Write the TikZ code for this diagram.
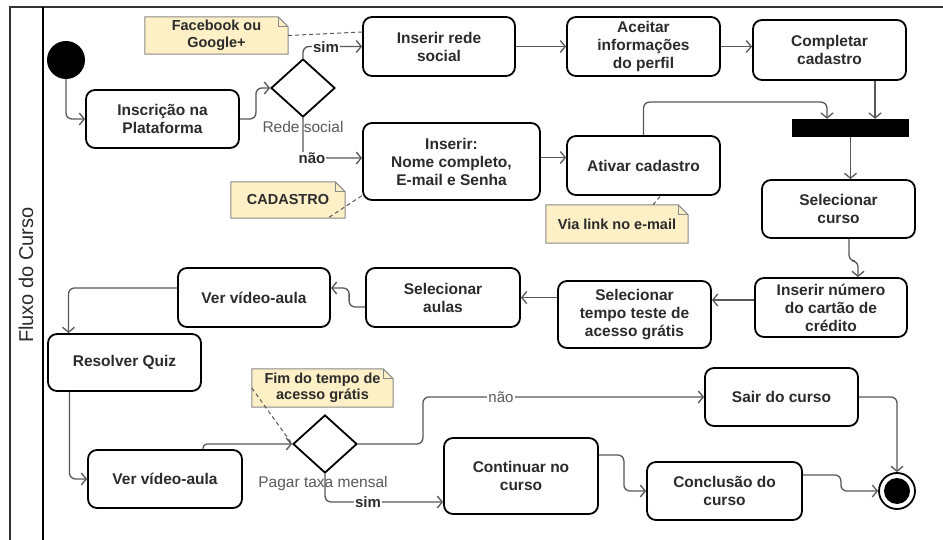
\documentclass[tikz,border=0pt]{standalone}
\usepackage{fontspec}
\setmainfont{Liberation Sans}
\usetikzlibrary{arrows.meta,shapes.geometric,calc}
\definecolor{txt}{HTML}{2B2B2B}
\definecolor{conncol}{HTML}{585858}
\definecolor{notefill}{HTML}{FDEFC6}
\definecolor{notedraw}{HTML}{8A8A8A}
\definecolor{lblgray}{HTML}{5A5A5A}
\tikzset{
  box/.style={draw=black, line width=1.8pt, rounded corners=9pt, fill=white, align=center,
    font=\bfseries\fontsize{15.5}{18}\selectfont, text=txt, inner sep=2pt},
  dec/.style={diamond, draw=black, line width=1.8pt, fill=white, inner sep=0pt,
    minimum width=64pt, minimum height=58pt},
  conn/.style={draw=conncol, line width=1.3pt, rounded corners=6pt,
    -{Straight Barb[length=5pt,width=12pt,line width=1.3pt]}},
  notelink/.style={draw=conncol, line width=1pt, dash pattern=on 4pt off 3pt},
  notetxt/.style={align=center, font=\bfseries\fontsize{14.5}{16.5}\selectfont, text=txt, inner sep=0pt},
  notefr/.style={draw=notedraw, line width=1pt, fill=notefill},
  lblb/.style={fill=white, inner sep=1pt, font=\bfseries\fontsize{15}{17}\selectfont, text=txt},
  lblr/.style={fill=white, inner sep=1pt, font=\fontsize{15}{17}\selectfont, text=lblgray},
  glbl/.style={inner sep=0pt, font=\fontsize{15.5}{17}\selectfont, text=lblgray},
}
\newcommand\mynote[5]{%
  \node[minimum width=#3, minimum height=#4, inner sep=0pt] (#1) at #2 {};
  \draw[notefr] (#1.south west) -- (#1.north west) -- ([xshift=-10pt]#1.north east)
     -- ([yshift=-10pt]#1.north east) -- (#1.south east) -- cycle;
  \draw[notefr, fill=none] ([xshift=-10pt]#1.north east) -- ([xshift=-10pt,yshift=-10pt]#1.north east)
     -- ([yshift=-10pt]#1.north east);
  \node[notetxt] (#1t) at (#1.center) {#5};
}
\begin{document}
\begin{tikzpicture}[x=1pt,y=-1pt]
\useasboundingbox[fill=white] (0,0) rectangle (943,540);
% frame
\draw[line width=1.6pt, draw=black!80] (10,545) -- (10,7) -- (950,7);
\draw[line width=1.6pt, draw=black] (43,7) -- (43,545);
\node[rotate=90, font=\fontsize{20}{22}\selectfont, text=txt] (lane) at (26,275) {Fluxo do Curso};

% nodes
\node[circle, fill=black, minimum size=38pt, inner sep=0pt] (init) at (66,60) {};
\node[box, minimum width=153pt, minimum height=58pt] (insc) at (162.5,119) {Inscrição na\\Plataforma};
\node[dec] (d1) at (303,88) {};
\node[box, minimum width=152pt, minimum height=59pt] (social) at (439,46.5) {Inserir rede\\social};
\node[box, minimum width=153pt, minimum height=59pt] (aceitar) at (643.5,46.5) {Aceitar\\informações\\do perfil};
\node[box, minimum width=153pt, minimum height=60pt] (completar) at (829.5,50) {Completar\\cadastro};
\node[fill=black, minimum width=117pt, minimum height=18pt, inner sep=0pt] (bar) at (850.5,128) {};
\node[box, minimum width=177pt, minimum height=77pt] (inserir) at (451.5,161.5) {Inserir:\\Nome completo,\\E-mail e Senha};
\node[box, minimum width=153pt, minimum height=59pt] (ativar) at (643.5,165.5) {Ativar cadastro};
\node[box, minimum width=153pt, minimum height=58pt] (selcurso) at (838.5,209) {Selecionar\\curso};
\node[box, minimum width=152pt, minimum height=59pt] (cartao) at (831,307.5) {Inserir número\\do cartão de\\crédito};
\node[box, minimum width=153pt, minimum height=67pt] (tempo) at (634.5,314.5) {Selecionar\\tempo teste de\\acesso grátis};
\node[box, minimum width=154pt, minimum height=59pt] (aulas) at (443,297.5) {Selecionar\\aulas};
\node[box, minimum width=152pt, minimum height=59pt] (video1) at (254,297.5) {Ver vídeo-aula};
\node[box, minimum width=153pt, minimum height=57pt] (quiz) at (124.5,362.5) {Resolver Quiz};
\node[box, minimum width=154pt, minimum height=58pt] (video2) at (165,479) {Ver vídeo-aula};
\node[dec] (d2) at (325,444) {};
\node[box, minimum width=153pt, minimum height=58pt] (sair) at (781.5,397) {Sair do curso};
\node[box, minimum width=154pt, minimum height=76pt] (continuar) at (521,476) {Continuar no\\curso};
\node[box, minimum width=155pt, minimum height=58pt] (conclusao) at (724.5,491) {Conclusão do\\curso};
\node[circle, draw=black, line width=1.8pt, fill=white, minimum size=36pt, inner sep=0pt] (final) at (897,491) {};
\node[circle, fill=black, minimum size=26pt, inner sep=0pt] (finalin) at (897,491) {};

% notes
\mynote{fb}{(216.5,35.5)}{143pt}{37pt}{Facebook ou\\Google+}
\mynote{cad}{(288,200)}{114pt}{36pt}{CADASTRO}
\mynote{via}{(617,224)}{142pt}{38pt}{Via link no e-mail}
\mynote{fim}{(322.5,388)}{141pt}{38pt}{Fim do tempo de\\acesso grátis}

% note links
\draw[notelink] (fb.east) -- ([yshift=14.5pt]social.west);
\draw[notelink] ([xshift=-16pt,yshift=1pt]cad.south east) -- ([xshift=1pt,yshift=6pt]inserir.south west);
\draw[notelink] ([xshift=36pt]via.north) -- ([xshift=17pt]ativar.south);
\draw[notelink] (fim.west) -- (d2.west);

% connectors
\draw[conn] (init.south) |- (insc.west);
\draw[conn] (insc.east) -- ++(16,0) |- (d1.west);
\draw[conn] (d1.north) |- (social.west);
\draw[conn] (d1.south) |- ([yshift=3.5pt]inserir.west);
\draw[conn] (social.east) -- (aceitar.west);
\draw[conn] (aceitar.east) -- (aceitar.east -| completar.west);
\draw[conn] ([xshift=45.5pt]completar.south) -- ([xshift=45.5pt]completar.south |- bar.north);
\draw[conn] (ativar.north) -- ++(0,-33) -| ([xshift=-23.5pt]bar.north);
\draw[conn] (bar.south) -- (bar.south |- selcurso.north);
\draw[conn] ([yshift=4pt]inserir.east) -- ([yshift=4pt]inserir.east -| ativar.west);
\draw[conn] ([xshift=10.5pt]selcurso.south) -- ++(0,22) -| ([xshift=27pt]cartao.north);
\draw[conn] ([yshift=7.5pt]cartao.west) -- ([yshift=7.5pt]cartao.west -| tempo.east);
\draw[conn] ([yshift=17pt]tempo.west) -- ([yshift=17pt]tempo.west -| aulas.east);
\draw[conn] ([yshift=-9.5pt]aulas.west) -- ++(-16,0) |- ([yshift=9.5pt]video1.east);
\draw[conn] ([yshift=9.5pt]video1.west) -| ([xshift=-56pt]quiz.north);
\draw[conn] ([xshift=-55pt]quiz.south) |- (video2.west);
\draw[conn, rounded corners=4pt] ([xshift=38pt]video2.north) |- (d2.west);
\draw[conn] (d2.east) -- ++(65,0) |- (sair.west);
\draw[conn] (d2.south) |- ([yshift=-26pt]continuar.west);
\draw[conn] (sair.east) -| (final.north);
\draw[conn] ([yshift=21pt]continuar.east) -- ++(25,0) |- (conclusao.west);
\draw[conn] ([yshift=16pt]conclusao.east) -- ++(38,0) |- (final.west);

% labels
\node[glbl] (lrede) at (303,127) {Rede social};
\node[glbl] (lpagar) at (323,483) {Pagar taxa mensal};
\node[lblb] (lsim1) at (326,47) {sim};
\node[lblb] (lnao1) at (312,158) {não};
\node[lblr] (lnao2) at (501,397) {não};
\node[lblb] (lsim2) at (368,502) {sim};
\end{tikzpicture}
\end{document}
